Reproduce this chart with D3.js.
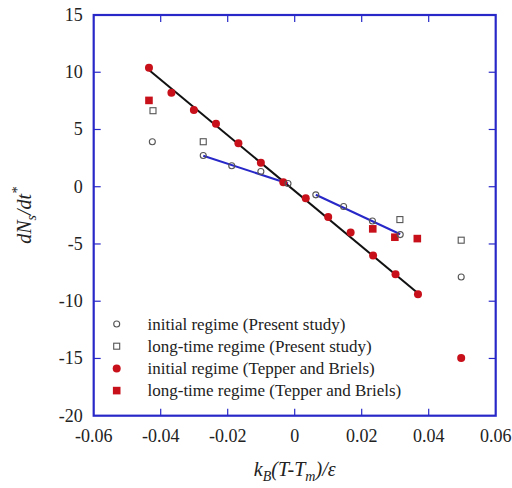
<!DOCTYPE html>
<html>
<head>
<meta charset="utf-8">
<script src="https://cdn.jsdelivr.net/npm/d3@7"></script>
<style>
  body { margin: 0; background: #fff; }
  svg { display: block; }
  .tick-label { font-family: "Liberation Serif", "DejaVu Serif", serif; font-size: 18px; fill: #222; }
  .legend-text { font-family: "Liberation Serif", "DejaVu Serif", serif; font-size: 17px; fill: #222; }
  .axis-title { font-family: "Liberation Serif", "DejaVu Serif", serif; font-size: 20px; font-style: italic; fill: #222; }
</style>
</head>
<body>
<svg id="chart"></svg>
<script>
// data
const xTicks = [-0.06, -0.04, -0.02, 0, 0.02, 0.04, 0.06];
const yTicks = [15, 10, 5, 0, -5, -10, -15, -20];

// initial regime (Tepper and Briels)
const tbInitX = [-0.0435, -0.0368, -0.0301, -0.0235, -0.0168, -0.0101, -0.0034, 0.0033, 0.0100, 0.0167, 0.0234, 0.0301, 0.0368, 0.0497];
const tbInitY = [10.4, 8.2, 6.7, 5.5, 3.8, 2.1, 0.4, -1.0, -2.65, -4.0, -6.0, -7.65, -9.4, -14.95];
// long-time regime (Tepper and Briels)
const tbLongX = [-0.0435, 0.0233, 0.0299, 0.0366];
const tbLongY = [7.54, -3.68, -4.41, -4.53];
// initial regime (Present study)
const psInitX = [-0.0425, -0.0273, -0.0188, -0.0101, -0.002, 0.0063, 0.0146, 0.0232, 0.0315, 0.0497];
const psInitY = [3.93, 2.73, 1.83, 1.33, 0.28, -0.71, -1.73, -3.0, -4.18, -7.88];
// long-time regime (Present study)
const psLongX = [-0.0423, -0.0273, 0.0314, 0.0497];
const psLongY = [6.64, 3.93, -2.87, -4.67];

// fitted lines (end points)
const blackFitX = [-0.0435, 0.0368];
const blackFitY = [10.2, -9.3];
const blueFit1X = [-0.0273, -0.002];
const blueFit1Y = [2.7, 0.28];
const blueFit2X = [0.0063, 0.0315];
const blueFit2Y = [-0.7, -4.15];

const legendLabels = [
  "initial regime (Present study)",
  "long-time regime (Present study)",
  "initial regime (Tepper and Briels)",
  "long-time regime (Tepper and Briels)"
];

const W = 512, H = 488;
const margin = { top: 15, right: 16.3, bottom: 72.3, left: 93.7 };
const width = W - margin.left - margin.right;
const height = H - margin.top - margin.bottom;

const RED = "#c8101a";
const BLUE = "#2828c8";
const GREY = "#555";

const svg = d3.select("#chart").attr("width", W).attr("height", H);
const g = svg.append("g").attr("transform", `translate(${margin.left},${margin.top})`);

const x = d3.scaleLinear().domain([-0.06, 0.06]).range([0, width]);
const y = d3.scaleLinear().domain([-20, 15]).range([height, 0]);

// ticks (inward, all four sides)
const tickLen = 7;
const fmtX = d => d === 0 ? "0" : d3.format(".2f")(d).replace("−", "-");
g.selectAll(".xt").data(xTicks.slice(1, -1)).join("g").each(function (d) {
  const s = d3.select(this);
  s.append("line").attr("x1", x(d)).attr("x2", x(d)).attr("y1", height).attr("y2", height - tickLen).attr("stroke", BLUE).attr("stroke-width", 1.2);
  s.append("line").attr("x1", x(d)).attr("x2", x(d)).attr("y1", 0).attr("y2", tickLen).attr("stroke", BLUE).attr("stroke-width", 1.2);
});
g.selectAll(".yt").data(yTicks.slice(1, -1)).join("g").each(function (d) {
  const s = d3.select(this);
  s.append("line").attr("x1", 0).attr("x2", tickLen).attr("y1", y(d)).attr("y2", y(d)).attr("stroke", BLUE).attr("stroke-width", 1.2);
  s.append("line").attr("x1", width).attr("x2", width - tickLen).attr("y1", y(d)).attr("y2", y(d)).attr("stroke", BLUE).attr("stroke-width", 1.2);
});

// tick labels
g.selectAll(".xl").data(xTicks).join("text")
  .attr("class", "tick-label")
  .attr("x", d => x(d)).attr("y", height + 26)
  .attr("text-anchor", "middle")
  .text(fmtX);
g.selectAll(".yl").data(yTicks).join("text")
  .attr("class", "tick-label")
  .attr("x", -11).attr("y", d => y(d) + 6)
  .attr("text-anchor", "end")
  .text(d => String(d));

// frame
g.append("rect").attr("x", 0).attr("y", 0).attr("width", width).attr("height", height)
  .attr("fill", "none").attr("stroke", BLUE).attr("stroke-width", 2.2);

// fit lines
const line = d3.line().x(d => x(d[0])).y(d => y(d[1]));
const drawFit = (xs, ys, color) => g.append("path")
  .datum(xs.map((v, i) => [v, ys[i]]))
  .attr("d", line).attr("fill", "none").attr("stroke", color).attr("stroke-width", 2);
drawFit(blackFitX, blackFitY, "#111");
drawFit(blueFit1X, blueFit1Y, BLUE);
drawFit(blueFit2X, blueFit2Y, BLUE);

// markers
const zip = (xs, ys) => xs.map((v, i) => [v, ys[i]]);
g.selectAll(".tbl").data(zip(tbLongX, tbLongY)).join("rect")
  .attr("x", d => x(d[0]) - 3.8).attr("y", d => y(d[1]) - 3.8)
  .attr("width", 7.6).attr("height", 7.6).attr("fill", RED);
g.selectAll(".tbi").data(zip(tbInitX, tbInitY)).join("circle")
  .attr("cx", d => x(d[0])).attr("cy", d => y(d[1])).attr("r", 4).attr("fill", RED);
g.selectAll(".psl").data(zip(psLongX, psLongY)).join("rect")
  .attr("x", d => x(d[0]) - 3).attr("y", d => y(d[1]) - 3)
  .attr("width", 6).attr("height", 6).attr("fill", "none").attr("stroke", GREY).attr("stroke-width", 1.1);
g.selectAll(".psi").data(zip(psInitX, psInitY)).join("circle")
  .attr("cx", d => x(d[0])).attr("cy", d => y(d[1])).attr("r", 3).attr("fill", "none").attr("stroke", GREY).attr("stroke-width", 1.1);

// legend
const legX = 116.7 - margin.left, legTextX = 147.5 - margin.left;
const legY0 = 324 - margin.top, legDy = 22.2;
const leg = g.append("g");
legendLabels.forEach((t, i) => {
  const cy = legY0 + i * legDy;
  if (i === 0) leg.append("circle").attr("cx", legX).attr("cy", cy).attr("r", 3).attr("fill", "none").attr("stroke", GREY).attr("stroke-width", 1.1);
  if (i === 1) leg.append("rect").attr("x", legX - 3).attr("y", cy - 3).attr("width", 6).attr("height", 6).attr("fill", "none").attr("stroke", GREY).attr("stroke-width", 1.1);
  if (i === 2) leg.append("circle").attr("cx", legX).attr("cy", cy).attr("r", 4).attr("fill", RED);
  if (i === 3) leg.append("rect").attr("x", legX - 3.8).attr("y", cy - 3.8).attr("width", 7.6).attr("height", 7.6).attr("fill", RED);
  leg.append("text").attr("class", "legend-text").attr("x", legTextX).attr("y", cy + 5.5).text(t);
});

// x axis title: k_B(T-T_m)/ε
const xt = svg.append("text").attr("class", "axis-title")
  .attr("x", margin.left + x(0)).attr("y", 476).attr("text-anchor", "middle");
xt.append("tspan").text("k");
xt.append("tspan").attr("dy", 5).style("font-size", "14px").text("B");
xt.append("tspan").attr("dy", -5).text("(T-T");
xt.append("tspan").attr("dy", 5).style("font-size", "14px").text("m");
xt.append("tspan").attr("dy", -5).text(")/ε");

// y axis title: dN_s/dt*
const yt = svg.append("text").attr("class", "axis-title")
  .attr("transform", `translate(31,${margin.top + height / 2}) rotate(-90)`)
  .attr("text-anchor", "middle");
yt.append("tspan").text("dN");
yt.append("tspan").attr("dy", 5).style("font-size", "14px").text("s");
yt.append("tspan").attr("dy", -5).text("/dt");
yt.append("tspan").attr("dy", -9).style("font-size", "14px").text("*");
</script>
</body>
</html>
